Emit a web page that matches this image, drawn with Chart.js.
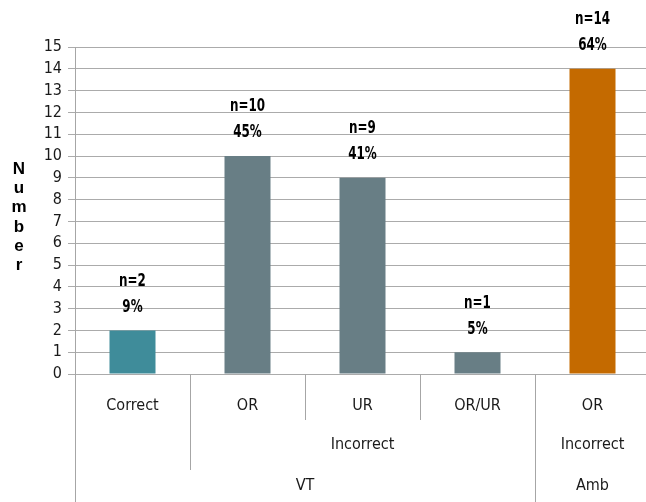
<!DOCTYPE html>
<html><head><meta charset="utf-8">
<script src="https://cdn.jsdelivr.net/npm/chart.js@4/dist/chart.umd.min.js"></script>
<style>
html,body{margin:0;padding:0;background:#fff;overflow:hidden;width:646px;height:502px}
#wrap{position:absolute;left:0;top:0;width:652px;height:502px}
</style></head><body>
<div id="wrap"><canvas id="c" width="652" height="502"></canvas></div>
<script>
const categories = ['Correct', 'OR', 'UR', 'OR/UR', 'OR'];
const values = [2, 10, 9, 1, 14];
const percentLabels = ['9%', '45%', '41%', '5%', '64%'];
const barColors = ['#3f8c9a', '#687e85', '#687e85', '#687e85', '#c46a00'];
const level2Groups = [
  { label: '', from: 0, to: 0 },
  { label: 'Incorrect', from: 1, to: 3 },
  { label: 'Incorrect', from: 4, to: 4 }
];
const level3Groups = [
  { label: 'VT', from: 0, to: 3 },
  { label: 'Amb', from: 4, to: 4 }
];
const yMin = 0, yMax = 15, yStep = 1;
const axisTitle = 'Number';

const NARROW = "'Liberation Sans Narrow', 'DejaVu Sans Condensed', sans-serif";
const ROW1_BOTTOM = 420, ROW2_BOTTOM = 470, ROW3_BOTTOM = 502;
const ROW2_Y = 445, ROW3_Y = 486;

const extras = {
  id: 'extras',
  afterDraw(chart) {
    const ctx = chart.ctx, xs = chart.scales.x, ca = chart.chartArea;
    const n = categories.length;
    const half = (xs.getPixelForValue(1) - xs.getPixelForValue(0)) / 2;
    const leftOf = i => xs.getPixelForValue(i) - half;
    const rightOf = i => xs.getPixelForValue(i) + half;
    ctx.save();
    // dividers
    ctx.strokeStyle = '#a6a6a6';
    ctx.lineWidth = 1;
    const vline = (x, y2) => {
      const px = Math.round(x) + 0.5;
      ctx.beginPath(); ctx.moveTo(px, ca.bottom); ctx.lineTo(px, y2); ctx.stroke();
    };
    vline(ca.left, ROW3_BOTTOM);
    for (let b = 1; b < n; b++) {
      let y2 = ROW1_BOTTOM;
      if (level3Groups.some(g => g.from === b)) y2 = ROW3_BOTTOM;
      else if (level2Groups.some(g => g.from === b)) y2 = ROW2_BOTTOM;
      vline(leftOf(b), y2);
    }
    // group labels
    ctx.fillStyle = '#1a1a1a';
    ctx.font = '16px ' + NARROW;
    ctx.textAlign = 'center';
    ctx.textBaseline = 'middle';
    level2Groups.forEach(g => {
      if (!g.label) return;
      ctx.fillText(g.label, (leftOf(g.from) + rightOf(g.to)) / 2, ROW2_Y);
    });
    level3Groups.forEach(g => {
      ctx.fillText(g.label, (leftOf(g.from) + rightOf(g.to)) / 2, ROW3_Y);
    });
    // data labels (horizontally condensed)
    const meta = chart.getDatasetMeta(0);
    ctx.fillStyle = '#000';
    ctx.font = 'bold 17px ' + NARROW;
    const sx = 0.78;
    meta.data.forEach((bar, i) => {
      ctx.save();
      ctx.translate(bar.x, 0);
      ctx.scale(sx, 1);
      ctx.fillText('n=' + values[i], 0, bar.y - 49);
      ctx.fillText(percentLabels[i], 0, bar.y - 23);
      ctx.restore();
    });
    // axis title, letters stacked
    ctx.font = 'bold 17px "Liberation Sans", Arial, sans-serif';
    ctx.textBaseline = 'alphabetic';
    axisTitle.split('').forEach((ch, i) => {
      ctx.fillText(ch, 19, 174 + i * 19.2);
    });
    ctx.restore();
  }
};

new Chart(document.getElementById('c'), {
  type: 'bar',
  data: {
    labels: categories,
    datasets: [{
      data: values,
      backgroundColor: barColors,
      borderWidth: 0,
      categoryPercentage: 1,
      barPercentage: 0.4
    }]
  },
  options: {
    responsive: false,
    animation: false,
    layout: { padding: { top: 47, left: 0, right: 2, bottom: 0 } },
    plugins: { legend: { display: false }, tooltip: { enabled: false } },
    scales: {
      x: {
        grid: { display: false, drawTicks: false },
        border: { display: false },
        ticks: { font: { family: NARROW, size: 16 }, color: '#1a1a1a', padding: 22, maxRotation: 0 },
        afterFit: s => { s.height = 128; }
      },
      y: {
        min: yMin, max: yMax,
        ticks: { stepSize: yStep, autoSkip: false, font: { family: NARROW, size: 16 }, color: '#1a1a1a', padding: 6 },
        grid: { color: '#ababab', tickLength: 7, lineWidth: 1 },
        border: { color: '#a6a6a6' },
        afterFit: s => { s.width = 75; }
      }
    }
  },
  plugins: [extras]
});
</script>
</body></html>
